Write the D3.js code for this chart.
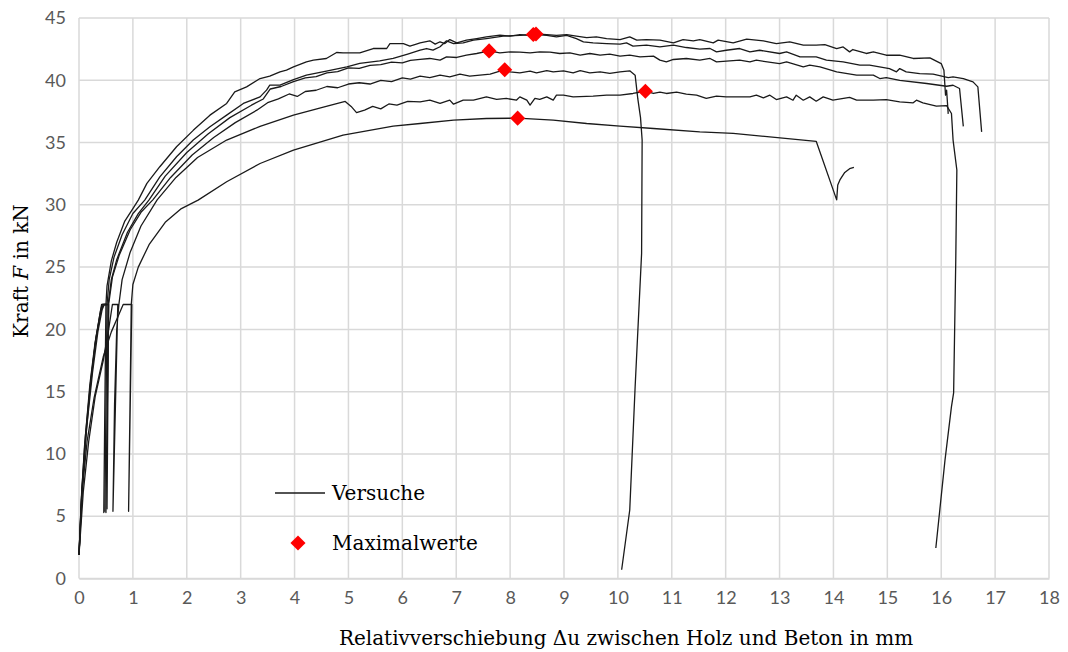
<!DOCTYPE html>
<html lang="de">
<head>
<meta charset="UTF-8">
<title>Kraft-Verschiebung</title>
<script src="https://cdnjs.cloudflare.com/ajax/libs/d3/7.8.5/d3.min.js"></script>
<style>
  body { margin: 0; background: #fff; }
  .tick text { font-family: Lato, "Open Sans", sans-serif; font-size: 18px; fill: #595959; }
  .lbl { font-family: "DejaVu Serif", serif; fill: #000; }
</style>
</head>
<body>
<div id="chart"></div>
<script>
// ticks
const xTicks = d3.range(0, 19, 1);
const yTicks = d3.range(0, 46, 5);

// test curves (Relativverschiebung mm, Kraft kN)
const versuch1 = [[0,1.9],[0.05,6.5],[0.12,11],[0.2,15],[0.3,18.8],[0.38,21],[0.42,22],[0.5,22],[0.46,5.3],[0.48,14],[0.5,22],[0.52,23.5],[0.6,25.5],[0.7,27],[0.85,28.7],[1.0,29.7],
  [1.1,30.38],[1.26,31.72],[1.5,33.06],[1.81,34.66],[2.12,35.98],[2.43,37.2],[2.74,38.14],[2.89,39.07],[3.11,39.47],[3.36,40.14],[3.54,40.33],[3.73,40.68],[3.85,40.81],[3.98,41.08],[4.22,41.48],[4.35,41.62],[4.59,41.75],[4.78,42.23],[4.9,42.2],[5.21,42.2],[5.46,42.55],[5.71,42.55],[5.77,42.95],[6.02,42.95],[6.14,42.74],[6.26,42.9],
  [6.33,43.0],[6.51,43.17],[6.61,42.9],[6.70,43.09],[6.79,42.95],[6.88,43.27],[7.01,43.0],[7.19,43.22],[7.38,43.35],[7.56,43.49],[7.81,43.62],[8.0,43.54],[8.18,43.66],[8.37,43.6],[8.48,43.72],[8.68,43.66],[8.86,43.6],[9.05,43.66],[9.23,43.55],[9.42,43.43],[9.6,43.49],[9.79,43.35],[10.04,43.27],[10.22,43.49],[10.35,43.22],[10.53,43.27],[10.78,43.22],[11.03,43.0],[11.21,43.27],[11.4,43.17],
  [11.52,43.27],[11.77,43.0],[11.86,43.22],[12.14,43.0],[12.39,43.3],[12.7,43.16],[12.94,42.95],[13.19,43.08],[13.44,42.82],[13.68,42.82],[13.84,42.87],[14.06,42.55],[14.18,42.68],[14.3,42.28],[14.36,42.47],[14.61,42.15],[14.74,42.28],[14.98,42.01],[15.23,42.01],[15.48,41.75],[15.79,41.8],[16.0,41.34],[16.05,40.8],[16.08,38.8],[16.1,39.2],[16.13,37.3]];

const versuch2 = [[0,1.9],[0.04,6],[0.1,10.5],[0.2,15.5],[0.3,19],[0.4,21.3],[0.45,22],[0.52,22],[0.48,5.4],[0.5,13],[0.52,22],[0.56,24],[0.65,25.8],[0.8,27.6],[1.0,29.3],
  [1.22,30.38],[1.5,32.25],[1.81,33.86],[2.12,35.2],[2.43,36.27],[2.74,37.2],[3.05,38.14],[3.36,38.67],[3.48,39.21],[3.54,39.61],[3.73,39.61],[3.98,40.06],[4.22,40.41],[4.59,40.73],[4.97,41.08],[5.21,41.35],[5.58,41.56],[5.83,41.75],[6.1,42.1],
  [6.33,42.42],[6.45,42.55],[6.57,42.42],[6.70,42.69],[6.82,43.17],[6.95,42.95],[7.13,43.0],[7.32,43.22],[7.56,43.35],[7.87,43.54],[8.18,43.6],[8.43,43.68],[8.68,43.6],[8.86,43.49],[9.05,43.6],[9.23,43.35],[9.36,43.09],[9.54,43.0],[9.79,42.95],[10.04,42.9],[10.16,43.0],[10.28,42.74],[10.53,42.82],[10.78,42.69],[11.03,42.82],[11.27,42.63],[11.52,42.5],
  [11.71,42.55],[11.83,42.28],[12.01,42.41],[12.26,42.55],[12.45,42.28],[12.63,42.41],[13.0,42.15],[13.13,42.28],[13.38,41.88],[13.68,41.88],[13.87,41.61],[14.18,41.48],[14.49,41.21],[14.67,41.21],[15.04,40.94],[15.17,40.68],[15.23,40.94],[15.35,40.68],[15.6,40.54],[15.85,40.49],[16.13,40.22],[16.22,40.27],[16.41,40.14],[16.59,39.87],[16.68,39.47],[16.75,35.86]];

const versuch3 = [[0,1.9],[0.05,7],[0.12,11.5],[0.22,16],[0.32,19.5],[0.4,21.5],[0.43,22],[0.55,22],[0.5,5.3],[0.52,13],[0.54,22],[0.6,24],[0.7,25.6],[0.9,27.8],[1.1,29.3],
  [1.3,30.4],[1.6,32.3],[2.0,34.2],[2.4,35.7],[2.8,37.0],[3.2,38.0],[3.42,38.5],[3.55,39.3],[3.75,39.5],[3.98,39.9],[4.2,40.2],[4.4,40.3],[4.6,40.6],[4.8,40.7],[5.0,41.0],[5.2,40.95],[5.4,41.2],[5.6,41.25],[5.8,41.45],[6.0,41.4],[6.15,41.6],
  [6.33,41.67],[6.51,41.75],[6.70,41.62],[6.82,41.88],[7.01,41.83],[7.19,42.02],[7.38,42.15],[7.61,42.36],[7.81,42.2],[8.0,42.28],[8.18,42.26],[8.37,42.2],[8.55,42.28],[8.74,42.26],[8.92,42.15],[9.11,42.2],[9.3,42.02],[9.48,42.15],[9.67,42.02],[9.85,42.1],[10.04,41.94],[10.22,42.02],[10.41,41.88],[10.66,41.94],[10.78,41.62],[10.9,41.48],[11.03,41.67],[11.27,41.75],[11.52,41.61],
  [11.71,41.75],[11.83,41.48],[12.26,41.61],[12.45,41.48],[12.57,41.61],[13.0,41.34],[13.13,41.48],[13.44,41.08],[13.56,41.21],[13.75,41.08],[14.06,40.68],[14.43,40.41],[14.74,40.41],[14.86,40.14],[14.98,40.22],[15.23,40.0],[15.73,39.74],[16.1,39.52],[16.22,39.6],[16.34,39.34],[16.41,36.3]];

const versuch4 = [[0,1.9],[0.08,7],[0.18,11],[0.3,14.6],[0.45,17.5],[0.55,20],[0.62,22],[0.72,22],[0.63,5.4],[0.66,14],[0.7,20],[0.74,22],[0.8,24],[0.95,26.2],[1.15,28.3],
  [1.45,30.4],[1.8,32.2],[2.2,33.8],[2.74,35.2],[3.36,36.3],[3.98,37.2],[4.5,37.8],[4.94,38.3],[5.05,37.9],[5.15,37.4],[5.3,37.6],[5.45,37.9],[5.6,37.7],[5.75,38.1],[5.9,38.0],[6.1,38.3],
  [6.33,38.27],[6.51,38.41],[6.70,38.14],[6.88,38.41],[6.95,38.08],[7.13,38.41],[7.32,38.41],[7.56,38.67],[7.75,38.46],[7.93,38.54],[8.12,38.41],[8.18,38.67],[8.31,38.41],[8.37,38.0],[8.46,38.54],[8.55,38.46],[8.68,38.67],[8.8,38.41],[8.86,38.81],[8.99,38.81],[9.17,38.67],[9.54,38.73],[9.79,38.81],[10.04,38.81],[10.28,38.94],[10.51,39.12],[10.66,38.94],[10.78,39.05],[10.9,38.94],[11.09,39.05],[11.27,38.89],[11.46,38.81],[11.64,38.54],[11.83,38.72],[12.01,38.67],[12.45,38.67],[12.57,38.8],[12.7,38.59],[12.82,38.8],[12.94,38.45],[13.13,38.67],[13.25,38.4],[13.31,38.8],[13.44,38.4],[13.56,38.67],[13.68,38.32],[13.81,38.67],[13.99,38.4],[14.3,38.62],[14.43,38.4],[14.74,38.4],[14.98,38.45],[15.23,38.27],[15.48,38.19],[15.54,38.4],[15.66,38.19],[15.91,37.92],[16.1,37.97],[16.19,37.33],[16.22,35.2],[16.29,32.8],[16.27,25.6],[16.23,14.9],[16.19,13.8],[16.07,9.5],[15.9,2.45]];

const versuch5 = [[0,1.9],[0.05,6.8],[0.14,12],[0.25,16.5],[0.35,19.8],[0.43,21.6],[0.47,22],[0.55,22],[0.52,5.6],[0.53,12],[0.55,22],[0.62,24.2],[0.75,26],[0.95,28],[1.15,29.4],
  [1.37,30.4],[1.7,32.2],[2.1,34.0],[2.5,35.4],[2.9,36.6],[3.3,37.6],[3.5,38.2],[3.7,38.5],[3.9,38.9],[4.05,38.7],[4.2,39.1],[4.4,39.2],[4.6,39.5],[4.8,39.4],[5.0,39.7],[5.2,39.8],[5.4,39.7],[5.6,40.0],[5.8,39.9],[6.0,40.2],[6.15,40.1],
  [6.33,40.33],[6.51,40.22],[6.70,40.41],[6.88,40.28],[7.07,40.49],[7.25,40.33],[7.44,40.41],[7.63,40.49],[7.9,40.85],[8.0,40.68],[8.18,40.6],[8.37,40.73],[8.49,40.6],[8.68,40.78],[8.8,40.68],[8.99,40.76],[9.17,40.6],[9.3,40.78],[9.48,40.6],[9.67,40.68],[9.85,40.55],[10.04,40.68],[10.22,40.76],[10.32,40.41],[10.37,38.5],[10.42,37.0],[10.45,35.2],[10.44,26.1],[10.32,15.4],[10.22,5.5],[10.07,0.7]];

const versuch6 = [[0,1.9],[0.06,7],[0.15,11],[0.28,14.5],[0.45,17.8],[0.6,19.8],[0.75,21.3],[0.82,22],[0.98,22],[0.92,5.4],[0.95,15],[0.97,22],[1.0,23.6],[1.1,25],[1.3,26.8],[1.6,28.6],[1.9,29.7],
  [2.21,30.38],[2.74,31.85],[3.36,33.32],[3.98,34.39],[4.9,35.6],[5.83,36.32],[6.33,36.53],[6.95,36.8],[7.56,36.93],[8.14,36.96],[8.8,36.8],[9.42,36.53],[10.04,36.32],[10.66,36.13],[11.52,35.86],[12.14,35.73],[13.68,35.1],[14.06,30.4],[14.08,31.6],[14.12,32.0],[14.21,32.6],[14.3,32.9],[14.38,33.0]];

const versuche = [versuch1, versuch2, versuch3, versuch4, versuch5, versuch6];

// maximum values
const maxX = [8.48, 8.43, 7.61, 10.51, 7.9, 8.14];
const maxY = [43.72, 43.68, 42.36, 39.12, 40.85, 36.96];

const W = 1068, H = 652;
const margin = {top: 18, right: 19, bottom: 73.5, left: 79};
const iw = W - margin.left - margin.right;
const ih = H - margin.top - margin.bottom;

const svg = d3.select('#chart').append('svg')
  .attr('width', W).attr('height', H);

const x = d3.scaleLinear().domain([0, 18]).range([margin.left, margin.left + iw]);
const y = d3.scaleLinear().domain([0, 45]).range([margin.top + ih, margin.top]);

// grid
svg.append('g').selectAll('line').data(xTicks).join('line')
  .attr('x1', d => x(d)).attr('x2', d => x(d))
  .attr('y1', y(0)).attr('y2', y(45))
  .attr('stroke', '#d9d9d9').attr('stroke-width', 1.5);
svg.append('g').selectAll('line').data(yTicks).join('line')
  .attr('x1', x(0)).attr('x2', x(18))
  .attr('y1', d => y(d)).attr('y2', d => y(d))
  .attr('stroke', '#d9d9d9').attr('stroke-width', 1.5);

// axes
const xAxis = svg.append('g')
  .attr('transform', `translate(0,${y(0)})`)
  .call(d3.axisBottom(x).tickValues(xTicks).tickSize(0).tickPadding(13).tickFormat(d3.format('d')));
xAxis.select('.domain').attr('stroke', '#d9d9d9').attr('stroke-width', 1.5);

const yAxis = svg.append('g')
  .attr('transform', `translate(${x(0)},0)`)
  .call(d3.axisLeft(y).tickValues(yTicks).tickSize(0).tickPadding(13));
yAxis.select('.domain').remove();

// curves
const line = d3.line().x(d => x(d[0])).y(d => y(d[1]));
svg.append('g').selectAll('path').data(versuche).join('path')
  .attr('d', line)
  .attr('fill', 'none')
  .attr('stroke', '#1a1a1a')
  .attr('stroke-width', 1.3)
  .attr('stroke-linejoin', 'round');

// diamonds
const diamond = d3.symbol().type(d3.symbolDiamond2).size(145);
svg.append('g').selectAll('path').data(maxX).join('path')
  .attr('transform', (d, i) => `translate(${x(d)},${y(maxY[i])})`)
  .attr('d', diamond)
  .attr('fill', '#ff0000');

// legend
const lg = svg.append('g');
lg.append('line').attr('x1', 275).attr('x2', 325).attr('y1', 493).attr('y2', 493)
  .attr('stroke', '#1a1a1a').attr('stroke-width', 1.3);
lg.append('text').attr('class', 'lbl').attr('x', 332).attr('y', 500)
  .attr('font-size', 20).text('Versuche');
lg.append('path').attr('d', diamond).attr('transform', 'translate(298,543)').attr('fill', '#ff0000');
lg.append('text').attr('class', 'lbl').attr('x', 332).attr('y', 550)
  .attr('font-size', 20).text('Maximalwerte');

// axis titles
svg.append('text').attr('class', 'lbl')
  .attr('x', 626).attr('y', 645).attr('text-anchor', 'middle')
  .attr('font-size', 20)
  .text('Relativverschiebung Δu zwischen Holz und Beton in mm');

const yt = svg.append('text').attr('class', 'lbl')
  .attr('transform', 'translate(28,271) rotate(-90)')
  .attr('text-anchor', 'middle').attr('font-size', 20);
yt.append('tspan').text('Kraft ');
yt.append('tspan').attr('font-style', 'italic').text('F');
yt.append('tspan').text(' in kN');
</script>
</body>
</html>
